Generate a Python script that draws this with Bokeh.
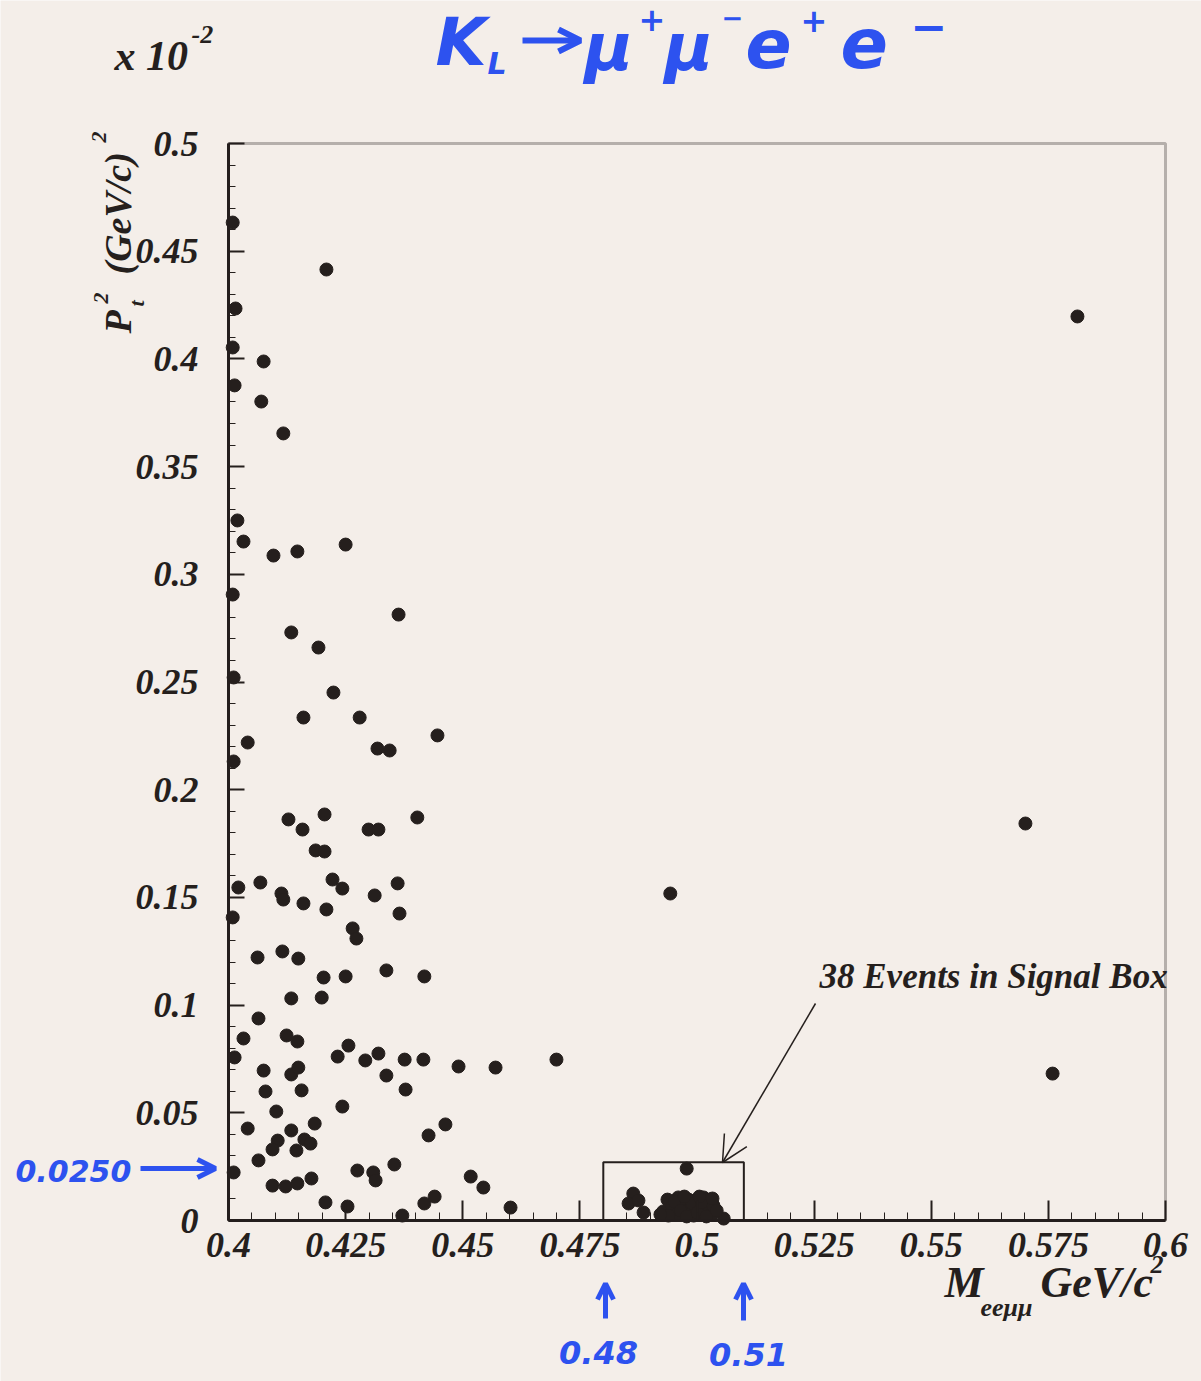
import math
from bokeh.plotting import figure
from bokeh.models import (Label, Arrow, OpenHead, FixedTicker, Range1d, LinearAxis,
                          BoxAnnotation, CustomJSTickFormatter, ColumnDataSource)
from bokeh.embed import file_html
from bokeh.resources import INLINE

# ---------------- data ----------------
# background events: M_eemumu (GeV/c^2), Pt^2 (x 1e-2 (GeV/c)^2)
mass_bg = [0.4009, 0.4209, 0.4015, 0.4009, 0.4075, 0.4013, 0.4070, 0.4117, 0.4019, 0.4032,
           0.4096, 0.4147, 0.4250, 0.4009, 0.4363, 0.4134, 0.4192, 0.4011, 0.4224, 0.4160,
           0.4280, 0.4446, 0.4041, 0.4318, 0.4344, 0.4011, 0.4128, 0.4205, 0.4403, 0.4158,
           0.4299, 0.4320, 0.4186, 0.4205, 0.4021, 0.4068, 0.4113, 0.4117, 0.4160, 0.4222,
           0.4243, 0.4209, 0.4312, 0.4361, 0.4365, 0.4009, 0.4265, 0.4273, 0.4062, 0.4115,
           0.4149, 0.4203, 0.4250, 0.4337, 0.4418, 0.4134, 0.4199, 0.4064, 0.4032, 0.4124,
           0.4147, 0.4013, 0.4233, 0.4256, 0.4292, 0.4320, 0.4376, 0.4416, 0.4491, 0.4570,
           0.4700, 0.4075, 0.4134, 0.4149, 0.4337, 0.4079, 0.4156, 0.4378, 0.4102, 0.4243,
           0.4041, 0.4134, 0.4184, 0.4105, 0.4094, 0.4145, 0.4162, 0.4175, 0.4427, 0.4463,
           0.4064, 0.4011, 0.4094, 0.4122, 0.4147, 0.4177, 0.4275, 0.4309, 0.4314, 0.4354,
           0.4517, 0.4544, 0.4207, 0.4254, 0.4418, 0.4440, 0.4602, 0.4371,
           0.4943, 0.5812, 0.5701, 0.5759]
pt2_bg = [0.4633, 0.4415, 0.4234, 0.4053, 0.3988, 0.3877, 0.3802, 0.3654, 0.3250, 0.3152,
          0.3087, 0.3106, 0.3138, 0.2906, 0.2813, 0.2730, 0.2660, 0.2521, 0.2451, 0.2335,
          0.2335, 0.2252, 0.2219, 0.2191, 0.2182, 0.2131, 0.1862, 0.1885, 0.1871, 0.1815,
          0.1815, 0.1815, 0.1718, 0.1713, 0.1546, 0.1569, 0.1518, 0.1490, 0.1472, 0.1583,
          0.1541, 0.1444, 0.1509, 0.1565, 0.1425, 0.1407, 0.1356, 0.1309, 0.1221, 0.1249,
          0.1216, 0.1128, 0.1133, 0.1161, 0.1133, 0.1031, 0.1035, 0.0938, 0.0845, 0.0859,
          0.0831, 0.0757, 0.0761, 0.0812, 0.0743, 0.0775, 0.0747, 0.0747, 0.0715, 0.0710,
          0.0747, 0.0696, 0.0678, 0.0710, 0.0673, 0.0599, 0.0604, 0.0608, 0.0506, 0.0529,
          0.0427, 0.0418, 0.0450, 0.0371, 0.0330, 0.0325, 0.0376, 0.0357, 0.0395, 0.0446,
          0.0279, 0.0223, 0.0162, 0.0158, 0.0172, 0.0195, 0.0232, 0.0223, 0.0186, 0.0260,
          0.0204, 0.0153, 0.0084, 0.0065, 0.0079, 0.0111, 0.0060, 0.0023,
          0.1518, 0.4197, 0.1843, 0.0682]

# 38 events inside the signal box
mass_sig = [0.4978, 0.4864, 0.4854, 0.4886, 0.4875,
            0.4928, 0.4937, 0.4947, 0.4956, 0.4960, 0.4969, 0.4975, 0.4982, 0.4986, 0.4993,
            0.4997, 0.5003, 0.5007, 0.5014, 0.5018, 0.5022, 0.5027, 0.5031, 0.4939, 0.4952,
            0.4965, 0.4978, 0.4990, 0.5001, 0.5010, 0.5020, 0.5035, 0.4922, 0.4973, 0.5005,
            0.5057, 0.5042, 0.5033]
pt2_sig = [0.0241, 0.0125, 0.0079, 0.0037, 0.0093,
           0.0042, 0.0097, 0.0065, 0.0028, 0.0107, 0.0070, 0.0037, 0.0097, 0.0056, 0.0023,
           0.0093, 0.0060, 0.0032, 0.0107, 0.0074, 0.0042, 0.0097, 0.0028, 0.0023, 0.0088,
           0.0046, 0.0019, 0.0079, 0.0037, 0.0084, 0.0019, 0.0070, 0.0028, 0.0111, 0.0111,
           0.0009, 0.0046, 0.0102]

signal_box_mass = [0.48, 0.51]
signal_box_pt2 = [0.0, 0.027]

x_ticks = [0.4, 0.425, 0.45, 0.475, 0.5, 0.525, 0.55, 0.575, 0.6]
x_tick_labels = ["0.4", "0.425", "0.45", "0.475", "0.5", "0.525", "0.55", "0.575", "0.6"]
y_ticks = [0.0, 0.05, 0.1, 0.15, 0.2, 0.25, 0.3, 0.35, 0.4, 0.45, 0.5]
y_tick_labels = ["0", "0.05", "0.1", "0.15", "0.2", "0.25", "0.3", "0.35", "0.4", "0.45", "0.5"]
x_minor = [round(0.4 + 0.005 * i, 4) for i in range(41)]
y_minor = [round(0.01 * i, 4) for i in range(51)]

# ---------------- style ----------------
BG = "#f4eee9"
INK = "#251f1d"
BLUE = "#2d52ef"
SERIF = "Liberation Serif"
HAND = "DejaVu Sans"

W, H = 1201, 1381
FL, FR, FT, FB = 228, 1165, 143, 1220      # pixel box of the plotted region
X0, X1, Y0, Y1 = 0.4, 0.6, 0.0, 0.5        # its data limits


def dx(px):
    return X0 + (px - FL) * (X1 - X0) / (FR - FL)


def dy(py):
    return Y0 + (FB - py) * (Y1 - Y0) / (FB - FT)


# the frame fills the whole page; axes are drawn at fixed data locations
p = figure(width=W, height=H,
           x_range=Range1d(dx(0), dx(W)), y_range=Range1d(dy(H), dy(0)),
           x_axis_type=None, y_axis_type=None,
           output_backend="svg", toolbar_location=None, min_border=0,
           background_fill_color=BG, border_fill_color=BG, outline_line_color=None)

fmt_code = """
const i = t.findIndex(v => Math.abs(v - tick) < 1e-9);
return i >= 0 ? l[i] : '';
"""
xaxis = LinearAxis(fixed_location=Y0, bounds=(X0, X1),
                   ticker=FixedTicker(ticks=x_ticks, minor_ticks=x_minor),
                   formatter=CustomJSTickFormatter(args=dict(t=x_ticks, l=x_tick_labels), code=fmt_code))
yaxis = LinearAxis(fixed_location=X0, bounds=(Y0, Y1),
                   ticker=FixedTicker(ticks=y_ticks, minor_ticks=y_minor),
                   formatter=CustomJSTickFormatter(args=dict(t=y_ticks, l=y_tick_labels), code=fmt_code))
for ax in (xaxis, yaxis):
    ax.axis_line_color = INK
    ax.axis_line_width = 3
    ax.major_tick_line_color = INK
    ax.minor_tick_line_color = INK
    ax.major_tick_line_width = 2
    ax.minor_tick_line_width = 1
    ax.major_tick_out = 0
    ax.minor_tick_out = 0
    ax.major_label_text_font = SERIF
    ax.major_label_text_font_style = "bold italic"
    ax.major_label_text_font_size = "36px"
    ax.major_label_text_color = INK
xaxis.major_tick_in = 20
xaxis.minor_tick_in = 8
xaxis.major_label_standoff = 12
yaxis.major_tick_in = 16
yaxis.minor_tick_in = 7
yaxis.major_label_standoff = 30
p.add_layout(xaxis, "below")
p.add_layout(yaxis, "left")

# frame of the plotted region
p.add_layout(BoxAnnotation(left=X0, right=X1, bottom=Y0, top=Y1, fill_color=None,
                           line_color=INK, line_width=3, level="overlay"))

# signal box
p.quad(left=[signal_box_mass[0]], right=[signal_box_mass[1]],
       bottom=[signal_box_pt2[0]], top=[signal_box_pt2[1]],
       fill_color=None, line_color=INK, line_width=2)

src_bg = ColumnDataSource(dict(mass=mass_bg, pt2=pt2_bg))
src_sig = ColumnDataSource(dict(mass=mass_sig, pt2=pt2_sig))
p.scatter("mass", "pt2", source=src_bg, size=13, color=INK)
p.scatter("mass", "pt2", source=src_sig, size=13, color=INK)


def lab(px, py, text, size, color=INK, font=SERIF, style="bold italic", align="left"):
    """Horizontal text; (px, py) = left/center x and baseline y in page pixels."""
    y_fix = py - 0.4 * size     # measured shift of the rendered baseline
    p.add_layout(Label(x=dx(px), y=dy(y_fix), text=text, text_font=font,
                       text_font_style=style, text_font_size=f"{size}px",
                       text_color=color, text_align=align, text_baseline="alphabetic"))


def vlab(px, py, text, size, color=INK, font=SERIF, style="bold italic"):
    """Text rotated to read upward; (px, py) = centre line x and start y."""
    x_fix = px - 0.2 * size
    p.add_layout(Label(x=dx(x_fix), y=dy(py), text=text, text_font=font,
                       text_font_style=style, text_font_size=f"{size}px",
                       text_color=color, text_align="left", text_baseline="middle",
                       angle=math.pi / 2, angle_units="rad"))


def arrow(x0, y0, x1, y1, color, width, head):
    p.add_layout(Arrow(x_start=dx(x0), y_start=dy(y0), x_end=dx(x1), y_end=dy(y1),
                       line_color=color, line_width=width,
                       end=OpenHead(size=head, line_color=color, line_width=width)))


# exponent label "x 10^-2"
lab(114, 72, "x 10", 42)
lab(191, 44, "-2", 26)

# y axis title (rotated)
vlab(125, 333, "P", 38)
vlab(105, 303, "2", 22)
vlab(140, 306, "t", 22)
vlab(125, 274, "(GeV/c)", 38)
vlab(103, 142, "2", 22)

# x axis title
lab(944, 1300, "M", 44)
lab(980, 1317, "eeμμ", 26)
lab(1040, 1300, "GeV/c", 44)
lab(1150, 1274, "2", 26)

# signal box annotation
lab(819, 990, "38 Events in Signal Box", 35)
arrow(815, 1003, 722, 1162, INK, 1.5, 26)

# handwritten (blue) annotations
lab(435, 68, "K", 66, color=BLUE, font=HAND)
lab(487, 75, "L", 30, color=BLUE, font=HAND)
arrow(522, 40, 580, 40, BLUE, 6, 22)
lab(584, 73, "μ", 66, color=BLUE, font=HAND)
lab(638, 32, "+", 32, color=BLUE, font=HAND)
lab(664, 73, "μ", 66, color=BLUE, font=HAND)
lab(721, 27, "−", 26, color=BLUE, font=HAND)
lab(745, 70, "e", 68, color=BLUE, font=HAND)
lab(800, 33, "+", 32, color=BLUE, font=HAND)
lab(840, 70, "e", 70, color=BLUE, font=HAND)
lab(910, 43, "−", 44, color=BLUE, font=HAND)

lab(15, 1182, "0.0250", 30, color=BLUE, font=HAND)
arrow(140, 1168, 215, 1168, BLUE, 5, 18)

arrow(605, 1318, 605, 1283, BLUE, 5, 16)
lab(598, 1365, "0.48", 32, color=BLUE, font=HAND, align="center")
arrow(743, 1320, 743, 1283, BLUE, 5, 16)
lab(748, 1367, "0.51", 32, color=BLUE, font=HAND, align="center")

open("out.html", "w").write(file_html(p, INLINE))
